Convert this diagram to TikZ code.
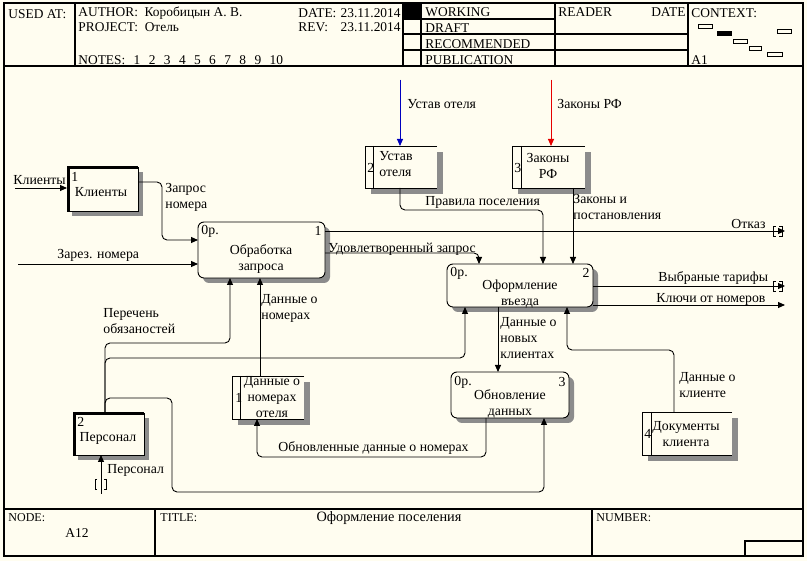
\documentclass[tikz,border=0pt]{standalone}
\usepackage{fontspec}
\setmainfont{Liberation Serif}
\usetikzlibrary{arrows.meta,calc}
\definecolor{bg}{RGB}{255,253,240}
\definecolor{shd}{RGB}{140,140,140}
\newcommand\tunnelR[2]{%
  \draw[line width=0.9pt] (#1-9,#2-5) -- (#1-12,#2-5) -- (#1-12,#2+5) -- (#1-9,#2+5);
  \draw[line width=0.9pt] (#1-6,#2-5) -- (#1-3,#2-5) -- (#1-3,#2+5) -- (#1-6,#2+5);}
\begin{document}
\begin{tikzpicture}[x=1pt,y=-1pt,line width=0.9pt,
  frame/.style={line width=1.2pt},
  box/.style={draw=none,inner sep=0pt,outer sep=0pt,anchor=north west},
  txt/.style={font=\fontsize{13.8}{16}\selectfont,inner sep=0pt,align=center},
  lbl/.style={font=\fontsize{13.8}{16}\selectfont,inner sep=0pt,align=left,anchor=west},
  lbln/.style={font=\fontsize{13.8}{16}\selectfont,inner sep=0pt,align=left,anchor=north west},
  hdr/.style={font=\fontsize{13.4}{15}\selectfont,inner sep=0pt,anchor=west},
  ftr/.style={font=\fontsize{12}{14}\selectfont,inner sep=0pt,anchor=west},
  arr/.style={-{Triangle[length=7pt,width=6pt]},rounded corners=5pt},
  ln/.style={rounded corners=5pt},
  rbox/.style={rounded corners=6pt}]
\useasboundingbox (0,0) rectangle (807,561);
\fill[bg] (0,0) rectangle (807,561);

% ---------- frame ----------
\draw[frame] (4,3) rectangle (803,556);
\draw[frame] (4,66) -- (803,66);
\draw[frame] (4,509) -- (803,509);
\draw[frame] (75,3) -- (75,66);
\draw[frame] (403,3) -- (403,66);
\draw[frame] (421,3) -- (421,66);
\draw[frame] (555,3) -- (555,66);
\draw[frame] (688,3) -- (688,66);
\draw[frame] (403,19) -- (555,19);
\draw[frame] (403,34) -- (688,34);
\draw[frame] (403,50) -- (688,50);
\fill (404,4) rectangle (421,18);
\draw[frame] (155,509) -- (155,556);
\draw[frame] (592,509) -- (592,556);
\draw[frame] (745,541) rectangle (803,556);

% header text
\node[hdr] (usedat) at (8,14) {USED AT:};
\node[hdr] (author) at (78,13) {AUTHOR:\ \ Коробицын А. В.};
\node[hdr] (project) at (78,27) {PROJECT:\ \ Отель};
\node[hdr] (notes) at (78,60) {NOTES:\hspace{8.4pt}1\hspace{8.4pt}2\hspace{8.4pt}3\hspace{8.4pt}4\hspace{8.4pt}5\hspace{8.4pt}6\hspace{8.4pt}7\hspace{8.4pt}8\hspace{8.4pt}9\hspace{8.4pt}10};
\node[hdr] (datel) at (298,13) {DATE:};
\node[hdr,anchor=east] (dater) at (401,13) {23.11.2014};
\node[hdr] (revl) at (298,27) {REV:};
\node[hdr,anchor=east] (revr) at (401,27) {23.11.2014};
\node[hdr] (working) at (425,12) {WORKING};
\node[hdr] (draft) at (425,28) {DRAFT};
\node[hdr] (recom) at (425,44) {RECOMMENDED};
\node[hdr] (public) at (425,60) {PUBLICATION};
\node[hdr] (reader) at (558,12) {READER};
\node[hdr,anchor=east] (rdate) at (686,12) {DATE};
\node[hdr] (context) at (691,13) {CONTEXT:};
\node[hdr] (aone) at (691,60) {A1};
% context mini map
\draw[line width=0.8pt] (698,24) rectangle (712,28);
\fill (717,31) rectangle (732,36);
\draw[line width=0.8pt] (733,39) rectangle (747,43);
\draw[line width=0.8pt] (749,46) rectangle (761,50);
\draw[line width=0.8pt] (767,52) rectangle (782,56);
\draw[line width=0.8pt] (777,29) rectangle (791,33);

% footer text
\node[ftr] (node) at (8,518) {NODE:};
\node[ftr,font=\fontsize{13.5}{15}\selectfont] (a12) at (65,533) {A12};
\node[ftr] (title) at (160,518) {TITLE:};
\node[ftr,anchor=center,font=\fontsize{14.3}{15}\selectfont] (ttl) at (389,518) {Оформление поселения};
\node[ftr] (number) at (596,518) {NUMBER:};

% ---------- boxes ----------
% Клиенты
\node[box,minimum width=71pt,minimum height=44pt] (kl) at (67,167) {};
\fill[shd] ($(kl.north west)+(5,5)$) rectangle ($(kl.south east)+(5,5)$);
\filldraw[fill=bg] (kl.north west) rectangle (kl.south east);
\draw[line width=3pt] ($(kl.south west)+(1,0)$) -- ($(kl.north west)+(1,1)$) -- ($(kl.north east)+(0,1)$);
\node[lbl] at (71,177) {1};
\node[txt] at (101,192) {Клиенты};

% Персонал
\node[box,minimum width=71pt,minimum height=42pt] (pers) at (73,413) {};
\fill[shd] ($(pers.north west)+(5,5)$) rectangle ($(pers.south east)+(5,5)$);
\filldraw[fill=bg] (pers.north west) rectangle (pers.south east);
\draw[line width=3pt] ($(pers.south west)+(1,0)$) -- ($(pers.north west)+(1,1)$) -- ($(pers.north east)+(0,1)$);
\node[lbl] at (77,422) {2};
\node[txt] at (108,438) {Персонал};

% Обработка запроса
\node[box,minimum width=127pt,minimum height=56pt] (obr) at (198,222) {};
\fill[shd,rbox] ($(obr.north west)+(5,5)$) rectangle ($(obr.south east)+(5,5)$);
\filldraw[fill=bg,rbox] (obr.north west) rectangle (obr.south east);
\node[lbl] at (201,231) {0р.};
\node[lbl,anchor=east] at (322,231) {1};
\node[txt] at (261,259) {Обработка\\запроса};

% Оформление въезда
\node[box,minimum width=146pt,minimum height=43pt] (oform) at (447,264) {};
\fill[shd,rbox] ($(oform.north west)+(5,5)$) rectangle ($(oform.south east)+(5,5)$);
\filldraw[fill=bg,rbox] (oform.north west) rectangle (oform.south east);
\node[lbl] at (450,273) {0р.};
\node[lbl,anchor=east] at (590,273) {2};
\node[txt] at (520,294) {Оформление\\въезда};

% Обновление данных
\node[box,minimum width=118pt,minimum height=46pt] (obn) at (451,372) {};
\fill[shd,rbox] ($(obn.north west)+(5,5)$) rectangle ($(obn.south east)+(5,5)$);
\filldraw[fill=bg,rbox] (obn.north west) rectangle (obn.south east);
\node[lbl] at (454,382) {0р.};
\node[lbl,anchor=east] at (566,382) {3};
\node[txt] at (510,404) {Обновление\\данных};

% store: Данные о номерах отеля
\node[box,minimum width=72pt,minimum height=43pt] (dno) at (232,376) {};
\fill[shd] ($(dno.north west)+(6,6)$) rectangle ($(dno.south east)+(6,6)$);
\fill[bg] (dno.north west) rectangle (dno.south east);
\draw (dno.north east) -- (dno.north west) -- (dno.south west) -- (dno.south east);
\draw ($(dno.north west)+(8,0)$) -- ($(dno.south west)+(8,0)$);
\node[lbl] at (235,398) {1};
\node[txt] at (272,397) {Данные о\\номерах\\отеля};

% store: Устав отеля
\node[box,minimum width=72pt,minimum height=42pt] (ust) at (365,146) {};
\fill[shd] ($(ust.north west)+(6,6)$) rectangle ($(ust.south east)+(6,6)$);
\fill[bg] (ust.north west) rectangle (ust.south east);
\draw (ust.north east) -- (ust.north west) -- (ust.south west) -- (ust.south east);
\draw ($(ust.north west)+(8,0)$) -- ($(ust.south west)+(8,0)$);
\node[lbl] at (367,168) {2};
\node[lbln,align=left] at (379,151) {Устав\\отеля};

% store: Законы РФ
\node[box,minimum width=73pt,minimum height=42pt] (zak) at (512,146) {};
\fill[shd] ($(zak.north west)+(6,6)$) rectangle ($(zak.south east)+(6,6)$);
\fill[bg] (zak.north west) rectangle (zak.south east);
\draw (zak.north east) -- (zak.north west) -- (zak.south west) -- (zak.south east);
\draw ($(zak.north west)+(9,0)$) -- ($(zak.south west)+(9,0)$);
\node[lbl] at (514,168) {3};
\node[txt] at (548,166) {Законы\\РФ};

% store: Документы клиента
\node[box,minimum width=90pt,minimum height=43pt] (doc) at (642,412) {};
\fill[shd] ($(doc.north west)+(6,6)$) rectangle ($(doc.south east)+(6,6)$);
\fill[bg] (doc.north west) rectangle (doc.south east);
\draw (doc.north east) -- (doc.north west) -- (doc.south west) -- (doc.south east);
\draw ($(doc.north west)+(9,0)$) -- ($(doc.south west)+(9,0)$);
\node[lbl] at (644,434) {4};
\node[txt] at (686,434) {Документы\\клиента};

% ---------- free ends ----------
\coordinate (inKl) at (15,188);
\coordinate (inZar) at (18,264);
\coordinate (inUst) at (400,80);
\coordinate (inZak) at (551,80);
\coordinate (outOtk) at (785,231);
\coordinate (outTar) at (785,286);
\coordinate (outKey) at (785,305);
\coordinate (inPers) at (101,494);

% ---------- connectors ----------
\draw[arr] (inKl) -- (kl.west |- inKl);
\draw[arr] (kl.east |- 0,182) -- (162,182) -- (162,240) -- (obr.west |- 0,240);
\draw[arr] (inZar) -- (obr.west |- inZar);
\draw[arr] (obr.east |- outOtk) -- (outOtk);
\tunnelR{785}{231}
\draw[arr] (obr.east |- 0,253) -- (479,253) -- (oform.north -| 479,0);
\draw[arr,draw={rgb,255:red,0;green,0;blue,190},fill={rgb,255:red,0;green,0;blue,190}] (inUst) -- (ust.north -| inUst);
\draw[arr,draw={rgb,255:red,230;green,0;blue,0},fill={rgb,255:red,230;green,0;blue,0}] (inZak) -- (zak.north -| inZak);
\draw[arr] (ust.south -| 400,0) -- (400,210) -- (543,210) -- (oform.north -| 543,0);
\draw[arr] (zak.south -| 573,0) -- (oform.north -| 573,0);
\draw[arr] (oform.east |- outTar) -- (outTar);
\tunnelR{785}{286}
\draw[arr] (oform.east |- 0,305) -- (outKey |- 0,305);
\draw[arr] (pers.north -| 105,0) -- (105,343) -- (230,343) -- (obr.south -| 230,0);
\draw[arr] (pers.north -| 105,0) -- (105,358) -- (465,358) -- (oform.south -| 465,0);
\draw[arr] (pers.north -| 105,0) -- (105,398) -- (172,398) -- (172,492) -- (544,492) -- (obn.south -| 544,0);
\draw[arr] (inPers) -- (pers.south -| inPers);
\draw[line width=0.9pt] (97,479) -- (95,479) -- (95,489) -- (97,489);
\draw[line width=0.9pt] (104,479) -- (106,479) -- (106,489) -- (104,489);
\draw[arr] (dno.north -| 260,0) -- (obr.south -| 260,0);
\draw[arr] (oform.south -| 498,0) -- (obn.north -| 498,0);
\draw[arr] (doc.north -| 674,0) -- (674,350) -- (567,350) -- (oform.south -| 567,0);
\draw[arr] (obn.south -| 486,0) -- (486,457) -- (257,457) -- (dno.south -| 257,0);

% ---------- labels ----------
\node[lbl] at (13,180) {Клиенты};
\node[lbln] at (165,183) {Запрос\\номера};
\node[lbl] at (57,255) {Зарез. номера};
\node[lbl] at (407,104) {Устав отеля};
\node[lbl] at (557,104) {Законы РФ};
\node[lbl] at (425,202) {Правила поселения};
\node[lbln] at (573,194) {Законы и\\постановления};
\node[lbl] at (731,224) {Отказ};
\node[lbl] at (328,249) {Удовлетворенный запрос};
\node[lbl] at (658,278) {Выбраные тарифы};
\node[lbl] at (656,299) {Ключи от номеров};
\node[lbln] at (103,308) {Перечень\\обязаностей};
\node[lbln] at (261,294) {Данные о\\номерах};
\node[lbln] at (500,317) {Данные о\\новых\\клиентах};
\node[lbln] at (679,372) {Данные о\\клиенте};
\node[lbl] at (278,448) {Обновленные данные о номерах};
\node[lbl] at (107,470) {Персонал};
\end{tikzpicture}
\end{document}
